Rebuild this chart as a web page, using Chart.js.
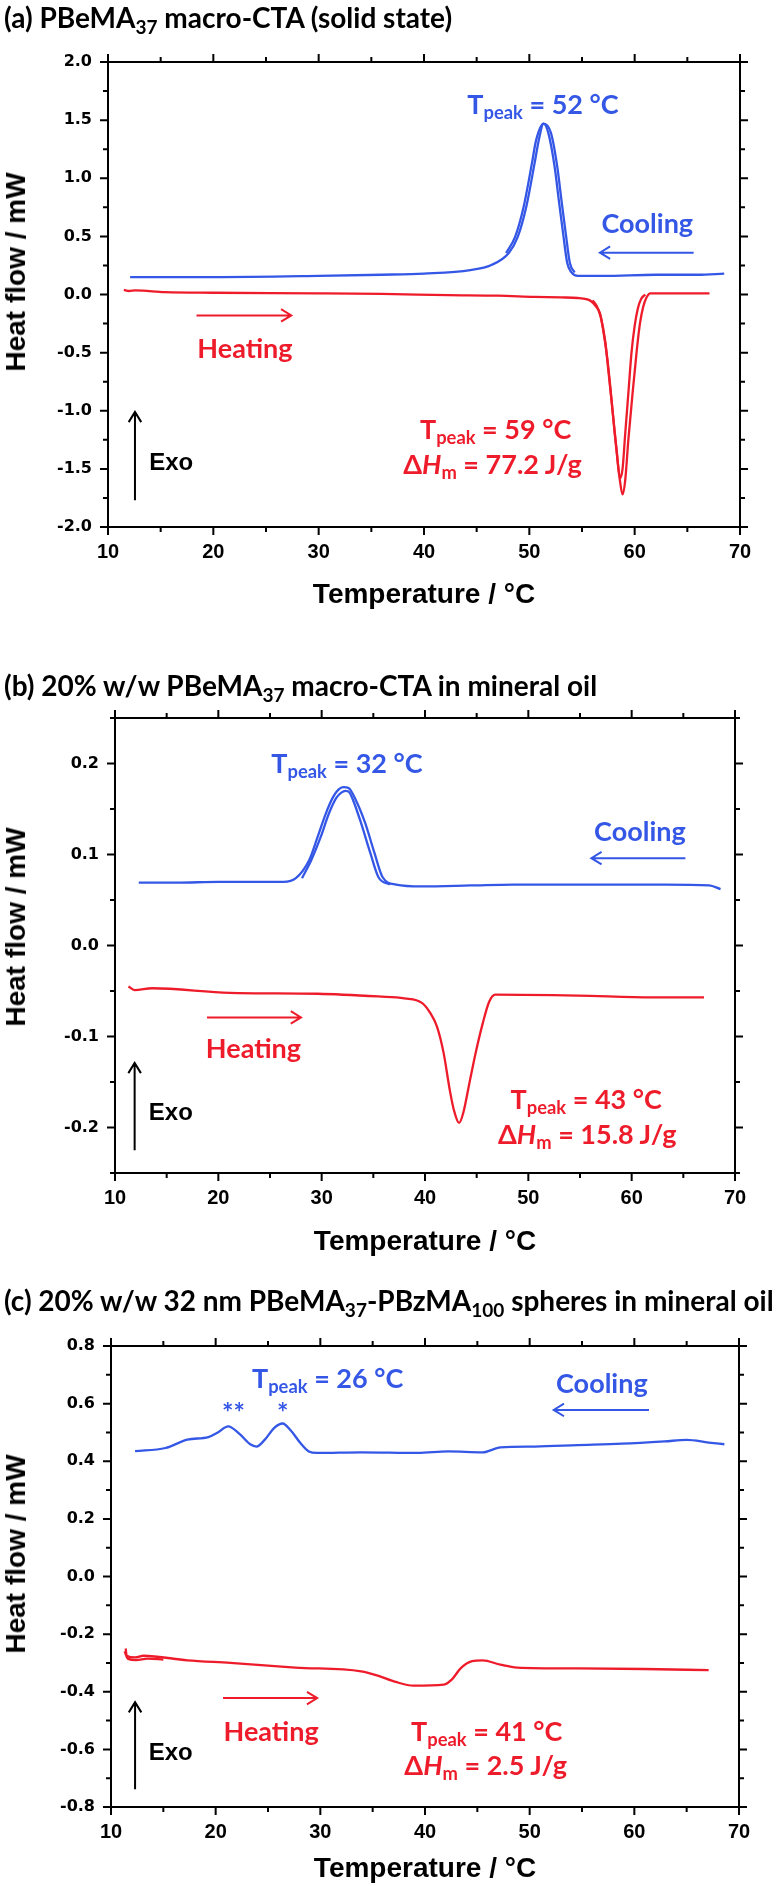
<!DOCTYPE html>
<html>
<head>
<meta charset="utf-8">
<script src="https://cdn.jsdelivr.net/npm/chart.js@4"></script>
<style>
html, body { margin:0; padding:0; width:778px; height:1886px; overflow:hidden; background:#fff; }
.panel { position:absolute; left:0; width:778px; }
.title { position:absolute; left:4px; font-family:Lato, "Open Sans", sans-serif; font-weight:700; font-size:28px; line-height:1; color:#000; white-space:nowrap; transform:translateY(-50%); }
.ytitle { position:absolute; font-family:"Liberation Sans", Arial, sans-serif; font-weight:700; font-size:28px; line-height:1; white-space:nowrap; transform:translate(-50%,-50%) rotate(-90deg); }
.note { position:absolute; font-family:Lato, sans-serif; font-weight:700; font-size:27px; line-height:1; white-space:nowrap; transform:translate(-50%,-50%); }
.exo { font-family:"Liberation Sans", Arial, sans-serif; font-size:24px; color:#000; }
sub { font-size:68%; vertical-align:-0.32em; line-height:0; }
</style>
</head>
<body>
<script>
const BLUE = '#3457e6';
const RED = '#ee1c2b';

// (a) solid state, cooling run (two overlapping traces around the peak)
const aCoolT   = [12.1, 20, 30, 36, 40, 44.4, 46.4, 48.05, 48.9, 49.7, 50.5, 50.9, 51.35, 51.8, 52.4, 52.8, 53.2, 53.6, 54.0, 54.6, 57, 62, 66, 68.5];
const aCoolHF  = [0.15, 0.15, 0.16, 0.17, 0.18, 0.21, 0.254, 0.357, 0.495, 0.75, 1.13, 1.33, 1.47, 1.39, 1.10, 0.81, 0.53, 0.27, 0.19, 0.16, 0.16, 0.17, 0.17, 0.18];
const aCool2T  = [47.8, 48.65, 49.45, 50.25, 50.65, 51.35, 52.05, 52.65, 53.05, 53.45, 53.85, 54.3];
const aCool2HF = [0.357, 0.495, 0.75, 1.13, 1.33, 1.47, 1.39, 1.10, 0.81, 0.53, 0.27, 0.19];
// (a) heating run
const aHeatT   = [11.5, 12.0, 12.6, 15.4, 20, 29.8, 36, 42.3, 47, 50.5, 53, 54.6, 55.4, 55.9, 56.3, 56.7, 57.0, 57.4, 57.8, 58.1, 58.4, 58.6, 58.85, 59.1, 59.4, 59.8, 60.2, 60.5, 60.8, 61.1, 61.5, 64, 67.1];
const aHeatHF  = [0.04, 0.03, 0.035, 0.02, 0.015, 0.01, 0.005, -0.005, -0.01, -0.02, -0.025, -0.03, -0.04, -0.06, -0.10, -0.16, -0.3, -0.55, -0.9, -1.19, -1.45, -1.6, -1.72, -1.6, -1.25, -0.85, -0.48, -0.25, -0.11, -0.03, 0.01, 0.01, 0.01];
const aHeat2T  = [56.0, 56.4, 56.8, 57.2, 57.5, 57.9, 58.3, 58.6, 58.85, 59.1, 59.4, 59.7, 60.0, 60.3, 60.6, 61.0];
const aHeat2HF = [-0.05, -0.10, -0.2, -0.4, -0.65, -1.0, -1.35, -1.58, -1.5, -1.2, -0.85, -0.5, -0.27, -0.12, -0.04, 0.0];

// (b) 20% macro-CTA in mineral oil
const bCoolT   = [12.3, 16, 20, 26.3, 27.5, 28.8, 29.6, 30.4, 31.1, 31.6, 32.1, 32.6, 33.3, 34.2, 35.1, 35.9, 37.2, 39.7, 44.4, 48.5, 54.8, 63.2, 67.5, 68.6];
const bCoolHF  = [0.069, 0.069, 0.07, 0.07, 0.074, 0.094, 0.119, 0.145, 0.163, 0.171, 0.174, 0.173, 0.16, 0.135, 0.102, 0.075, 0.067, 0.065, 0.066, 0.067, 0.067, 0.067, 0.066, 0.062];
const bCool2T  = [28.1, 29.0, 29.9, 30.7, 31.4, 31.9, 32.3, 32.7, 33.1, 33.8, 34.7, 35.5, 36.6];
const bCool2HF = [0.074, 0.094, 0.119, 0.145, 0.162, 0.168, 0.170, 0.168, 0.158, 0.135, 0.102, 0.075, 0.067];
const bHeatT   = [11.3, 11.9, 13.6, 21.1, 29.6, 35.5, 38.0, 39.7, 40.5, 41.15, 41.8, 42.4, 42.8, 43.3, 43.7, 44.3, 44.9, 45.6, 46.2, 46.8, 54.8, 62.0, 67.0];
const bHeatHF  = [-0.045, -0.049, -0.047, -0.052, -0.053, -0.056, -0.058, -0.063, -0.074, -0.089, -0.118, -0.159, -0.181, -0.195, -0.184, -0.151, -0.118, -0.085, -0.062, -0.054, -0.055, -0.057, -0.057];

// (c) 32 nm spheres in mineral oil
const cCoolT   = [12.3, 15.2, 17.3, 19.3, 20.2, 21.2, 22.3, 23.3, 23.9, 24.7, 25.6, 26.4, 27.2, 28.1, 28.9, 29.7, 33.9, 39.3, 42.2, 45.5, 47.2, 50.5, 54.6, 58.8, 62.9, 65.0, 67.1, 68.6];
const cCoolHF  = [0.435, 0.446, 0.475, 0.484, 0.50, 0.521, 0.494, 0.459, 0.451, 0.475, 0.516, 0.531, 0.506, 0.463, 0.434, 0.429, 0.431, 0.429, 0.434, 0.431, 0.448, 0.451, 0.456, 0.461, 0.469, 0.474, 0.465, 0.459];
const cHeatT   = [11.4, 11.5, 12.3, 13.1, 17.3, 21.4, 27.6, 33.9, 35.5, 37.2, 38.9, 41.8, 42.6, 43.4, 44.5, 45.5, 47.2, 48.8, 54.6, 60.9, 67.1];
const cHeatHF  = [-0.25, -0.275, -0.281, -0.275, -0.291, -0.30, -0.316, -0.329, -0.344, -0.366, -0.379, -0.375, -0.356, -0.319, -0.294, -0.291, -0.306, -0.316, -0.319, -0.321, -0.325];
const cHeat2T  = [11.3, 11.6, 12.4, 13.5, 15];
const cHeat2HF = [-0.26, -0.285, -0.29, -0.285, -0.288];

const tempTicks = { min: 10, max: 70, step: 5, labelStep: 10 };

const pts = (t, hf) => t.map((v, i) => ({ x: v, y: hf[i] }));

const panels = [
  {
    canvasTop: 30, left: 108, right: 740, plotTop: 62, plotBottom: 527, bottomBox: 82,
    yMin: -2, yMax: 2, yStep: 0.25, yLabelStep: 0.5, titleY: 17, yTitleY: 272,
    title: '(a) PBeMA<sub>37</sub> macro-CTA (solid state)',
    series: [[aCoolT, aCoolHF, BLUE], [aCool2T, aCool2HF, BLUE], [aHeatT, aHeatHF, RED], [aHeat2T, aHeat2HF, RED]],
    arrows: [[12.56, -1.77, 12.56, -1.01, '#000'], [65.6, 0.36, 56.7, 0.36, BLUE], [18.4, -0.18, 27.4, -0.18, RED]],
    notes: [
      [51.3, 1.65, 'T<sub>peak</sub> = 52 °C', BLUE],
      [61.2, 0.62, 'Cooling', BLUE],
      [23.0, -0.45, 'Heating', RED],
      [46.8, -1.15, 'T<sub>peak</sub> = 59 °C', RED],
      [46.5, -1.45, 'Δ<i>H</i><sub>m</sub> = 77.2 J/g', RED],
      [16.0, -1.44, 'Exo', '#000', 'exo']
    ]
  },
  {
    canvasTop: 690, left: 115, right: 735, plotTop: 718, plotBottom: 1173, bottomBox: 83,
    yMin: -0.25, yMax: 0.25, yStep: 0.05, yLabelStep: 0.1, titleY: 685, yTitleY: 927,
    title: '(b) 20% w/w PBeMA<sub>37</sub> macro-CTA in mineral oil',
    series: [[bCoolT, bCoolHF, BLUE], [bCool2T, bCool2HF, BLUE], [bHeatT, bHeatHF, RED]],
    arrows: [[11.9, -0.225, 11.9, -0.129, '#000'], [65.2, 0.096, 56.1, 0.096, BLUE], [18.9, -0.079, 28.0, -0.079, RED]],
    notes: [
      [32.45, 0.202, 'T<sub>peak</sub> = 32 °C', BLUE],
      [60.8, 0.127, 'Cooling', BLUE],
      [23.4, -0.112, 'Heating', RED],
      [55.6, -0.168, 'T<sub>peak</sub> = 43 °C', RED],
      [55.7, -0.206, 'Δ<i>H</i><sub>m</sub> = 15.8 J/g', RED],
      [15.4, -0.183, 'Exo', '#000', 'exo']
    ]
  },
  {
    canvasTop: 1320, left: 111, right: 739, plotTop: 1346, plotBottom: 1807, bottomBox: 76,
    yMin: -0.8, yMax: 0.8, yStep: 0.1, yLabelStep: 0.2, titleY: 1300, yTitleY: 1554,
    title: '(c) 20% w/w 32 nm PBeMA<sub>37</sub>-PBzMA<sub>100</sub> spheres in mineral oil',
    series: [[cCoolT, cCoolHF, BLUE], [cHeatT, cHeatHF, RED], [cHeat2T, cHeat2HF, RED]],
    arrows: [[12.3, -0.738, 12.3, -0.436, '#000'], [61.4, 0.578, 52.3, 0.578, BLUE], [20.7, -0.422, 29.7, -0.422, RED]],
    notes: [
      [30.7, 0.692, 'T<sub>peak</sub> = 26 °C', BLUE],
      [21.7, 0.574, '**', BLUE],
      [26.4, 0.574, '*', BLUE],
      [56.9, 0.675, 'Cooling', BLUE],
      [25.3, -0.533, 'Heating', RED],
      [45.9, -0.533, 'T<sub>peak</sub> = 41 °C', RED],
      [45.8, -0.651, 'Δ<i>H</i><sub>m</sub> = 2.5 J/g', RED],
      [15.7, -0.61, 'Exo', '#000', 'exo']
    ]
  }
];

function stepLabel(labelStep) {
  return function (v) {
    const k = Math.round(v / labelStep);
    return Math.abs(v - k * labelStep) < 1e-6 ? (k * labelStep).toFixed(labelStep >= 1 ? 0 : 1) : '';
  };
}

function buildPanel(p) {
  const height = p.plotBottom - p.canvasTop + p.bottomBox;
  const wrap = document.createElement('div');
  wrap.className = 'panel';
  wrap.style.top = p.canvasTop + 'px';
  wrap.style.height = height + 'px';
  const canvas = document.createElement('canvas');
  canvas.width = 778;
  canvas.height = height;
  canvas.style.width = '778px';
  canvas.style.height = height + 'px';
  wrap.appendChild(canvas);
  document.body.appendChild(wrap);

  const title = document.createElement('div');
  title.className = 'title';
  title.style.top = p.titleY + 'px';
  title.innerHTML = p.title;
  document.body.appendChild(title);

  const ytitle = document.createElement('div');
  ytitle.className = 'ytitle';
  ytitle.style.left = '16px';
  ytitle.style.top = p.yTitleY + 'px';
  ytitle.textContent = 'Heat flow / mW';
  document.body.appendChild(ytitle);

  const frame = { display: true, color: '#000', width: 2 };
  const noGrid = { display: false, drawTicks: false };

  // outward major/minor ticks on all four sides, plus arrows and text notes
  const marks = {
    id: 'marks',
    afterDraw(chart) {
      const ctx = chart.ctx, a = chart.chartArea, sx = chart.scales.x, sy = chart.scales.y;
      ctx.save();
      ctx.strokeStyle = '#000';
      ctx.lineWidth = 2;
      ctx.beginPath();
      sx.ticks.forEach(t => {
        const px = sx.getPixelForValue(t.value), len = t.label ? 8 : 5;
        ctx.moveTo(px, a.bottom); ctx.lineTo(px, a.bottom + len);
        ctx.moveTo(px, a.top); ctx.lineTo(px, a.top - len);
      });
      sy.ticks.forEach(t => {
        const py = sy.getPixelForValue(t.value), len = t.label ? 8 : 5;
        ctx.moveTo(a.left, py); ctx.lineTo(a.left - len, py);
        ctx.moveTo(a.right, py); ctx.lineTo(a.right + len, py);
      });
      ctx.stroke();

      p.arrows.forEach(([x1, y1, x2, y2, col]) => {
        const X1 = sx.getPixelForValue(x1), Y1 = sy.getPixelForValue(y1);
        const X2 = sx.getPixelForValue(x2), Y2 = sy.getPixelForValue(y2);
        const ang = Math.atan2(Y2 - Y1, X2 - X1), h = 12, s = 0.55;
        ctx.strokeStyle = col;
        ctx.lineWidth = 2;
        ctx.beginPath();
        ctx.moveTo(X1, Y1); ctx.lineTo(X2, Y2);
        ctx.moveTo(X2 - h * Math.cos(ang - s), Y2 - h * Math.sin(ang - s));
        ctx.lineTo(X2, Y2);
        ctx.lineTo(X2 - h * Math.cos(ang + s), Y2 - h * Math.sin(ang + s));
        ctx.stroke();
      });
      ctx.restore();

      if (!chart.$notesDone) {
        chart.$notesDone = true;
        p.notes.forEach(([x, y, html, col, cls]) => {
          const d = document.createElement('div');
          d.className = 'note' + (cls ? ' ' + cls : '');
          d.style.left = sx.getPixelForValue(x) + 'px';
          d.style.top = sy.getPixelForValue(y) + 'px';
          d.style.color = col;
          d.innerHTML = html;
          wrap.appendChild(d);
        });
      }
    }
  };

  new Chart(canvas, {
    type: 'line',
    data: {
      datasets: p.series.map(([t, hf, col]) => ({
        data: pts(t, hf),
        borderColor: col,
        borderWidth: 2.3,
        pointRadius: 0,
        cubicInterpolationMode: 'monotone',
        fill: false
      }))
    },
    options: {
      responsive: false,
      animation: false,
      events: [],
      layout: { padding: 0 },
      plugins: { legend: { display: false }, tooltip: { enabled: false } },
      scales: {
        x: {
          type: 'linear', position: 'bottom', min: tempTicks.min, max: tempTicks.max,
          ticks: {
            stepSize: tempTicks.step, autoSkip: false, maxRotation: 0, padding: 13, color: '#000',
            font: { family: '"Liberation Sans Narrow", "Liberation Sans", Arial', weight: 'bold', size: 20 },
            callback: stepLabel(tempTicks.labelStep)
          },
          grid: noGrid, border: frame,
          title: {
            display: true, text: 'Temperature / °C', color: '#000', padding: 0,
            font: { family: '"Liberation Sans", Arial', weight: 'bold', size: 28, lineHeight: 1 }
          },
          afterFit: s => { s.height = p.bottomBox; }
        },
        x2: {
          type: 'linear', position: 'top', min: tempTicks.min, max: tempTicks.max,
          ticks: { display: false }, grid: noGrid, border: frame,
          afterFit: s => { s.height = p.plotTop - p.canvasTop; }
        },
        y: {
          type: 'linear', position: 'left', min: p.yMin, max: p.yMax,
          ticks: {
            stepSize: p.yStep, autoSkip: false, padding: 16, color: '#000',
            font: { family: '"DejaVu Sans", Verdana', weight: 'bold', size: 16 },
            callback: stepLabel(p.yLabelStep)
          },
          grid: noGrid, border: frame,
          afterFit: s => { s.width = p.left; }
        },
        y2: {
          type: 'linear', position: 'right', min: p.yMin, max: p.yMax,
          ticks: { display: false }, grid: noGrid, border: frame,
          afterFit: s => { s.width = 778 - p.right; }
        }
      }
    },
    plugins: [marks]
  });
}

panels.forEach(buildPanel);
</script>
</body>
</html>
